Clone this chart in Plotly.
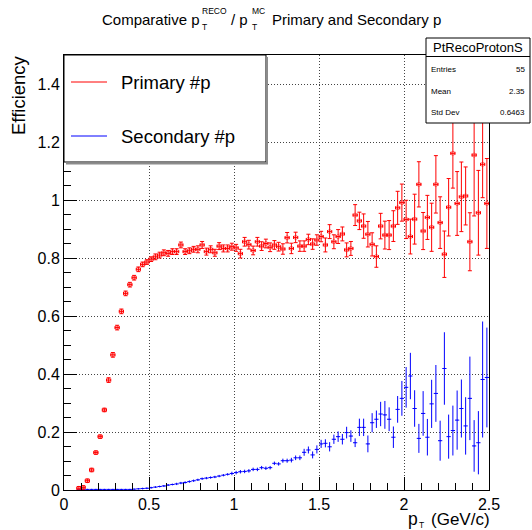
import plotly.graph_objects as go

# ---------------- data ----------------
BIN_WIDTH = 0.025          # pT bin width (GeV/c)
FIRST_BIN = 3              # first filled bin index

primary_eff = [
    0.006, 0.009, 0.032, 0.069, 0.129, 0.184, 0.276, 0.379, 0.466, 0.560,
    0.616, 0.678, 0.708, 0.732, 0.761, 0.778, 0.786, 0.796, 0.804, 0.810,
    0.818, 0.816, 0.822, 0.822, 0.845, 0.822, 0.825, 0.830, 0.830, 0.845,
    0.822, 0.830, 0.818, 0.841, 0.833, 0.833, 0.839, 0.835, 0.815, 0.856,
    0.846, 0.826, 0.856, 0.841, 0.850, 0.837, 0.845, 0.839, 0.831, 0.870,
    0.833, 0.871, 0.841, 0.841, 0.864, 0.848, 0.862, 0.874, 0.845, 0.891,
    0.856, 0.874, 0.883, 0.828, 0.833, 0.948, 0.928, 0.910, 0.882, 0.847,
    0.805, 0.910, 0.879, 0.879, 0.910, 0.973, 0.991, 0.933, 0.874, 0.934,
    1.054, 0.893, 0.940, 0.906, 1.054, 0.922, 0.813, 0.975, 1.161, 0.988,
    1.011, 1.014, 0.856, 1.155, 0.956, 1.123, 0.988,
]
primary_err_up = [
    0.006, 0.006, 0.006, 0.006, 0.006, 0.006, 0.006, 0.008, 0.008, 0.008,
    0.008, 0.008, 0.008, 0.008, 0.008, 0.008, 0.008, 0.008, 0.010, 0.010,
    0.010, 0.010, 0.010, 0.010, 0.010, 0.010, 0.010, 0.010, 0.012, 0.012,
    0.012, 0.012, 0.012, 0.012, 0.012, 0.012, 0.012, 0.012, 0.015, 0.015,
    0.015, 0.015, 0.015, 0.015, 0.015, 0.015, 0.015, 0.015, 0.018, 0.018,
    0.018, 0.018, 0.018, 0.018, 0.018, 0.018, 0.018, 0.018, 0.024, 0.024,
    0.024, 0.024, 0.024, 0.024, 0.024, 0.036, 0.030, 0.042, 0.044, 0.040,
    0.037, 0.044, 0.048, 0.050, 0.053, 0.057, 0.064, 0.066, 0.060, 0.086,
    0.078, 0.064, 0.076, 0.083, 0.099, 0.089, 0.080, 0.099, 0.120, 0.110,
    0.120, 0.100, 0.100, 0.210, 0.146, 0.190, 0.155,
]
primary_err_down = [
    0.006, 0.006, 0.006, 0.006, 0.006, 0.006, 0.006, 0.008, 0.008, 0.008,
    0.008, 0.008, 0.008, 0.008, 0.008, 0.008, 0.008, 0.008, 0.010, 0.010,
    0.010, 0.010, 0.010, 0.010, 0.010, 0.010, 0.010, 0.010, 0.012, 0.012,
    0.012, 0.012, 0.012, 0.012, 0.012, 0.012, 0.012, 0.012, 0.015, 0.015,
    0.015, 0.015, 0.015, 0.015, 0.015, 0.015, 0.015, 0.015, 0.018, 0.018,
    0.018, 0.018, 0.018, 0.018, 0.018, 0.018, 0.018, 0.018, 0.024, 0.024,
    0.024, 0.024, 0.024, 0.024, 0.024, 0.036, 0.030, 0.042, 0.044, 0.040,
    0.037, 0.044, 0.048, 0.050, 0.053, 0.057, 0.064, 0.066, 0.060, 0.086,
    0.078, 0.064, 0.076, 0.083, 0.099, 0.089, 0.080, 0.099, 0.120, 0.110,
    0.120, 0.100, 0.100, 0.210, 0.146, 0.115, 0.155,
]

secondary_eff = [
    0.002, 0.002, 0.002, 0.002, 0.002, 0.002, 0.002, 0.002, 0.002, 0.002,
    0.002, 0.002, 0.002, 0.003, 0.004, 0.005, 0.006, 0.008, 0.010, 0.012,
    0.014, 0.017, 0.019, 0.021, 0.024, 0.026, 0.029, 0.032, 0.035, 0.039,
    0.041, 0.043, 0.045, 0.048, 0.051, 0.054, 0.057, 0.060, 0.063, 0.064,
    0.066, 0.071, 0.071, 0.077, 0.075, 0.077, 0.092, 0.090, 0.101, 0.101,
    0.103, 0.111, 0.111, 0.130, 0.138, 0.121, 0.140, 0.159, 0.161, 0.149,
    0.175, 0.184, 0.175, 0.198, 0.186, 0.163, 0.216, 0.216, 0.159, 0.232,
    0.244, 0.262, 0.259, 0.244, 0.182, 0.278, 0.316, 0.354, 0.393, 0.281,
    0.178, 0.264, 0.182, 0.297, 0.333, 0.170, 0.419, 0.184, 0.205, 0.241,
    0.281, 0.221, 0.316, 0.152, 0.163, 0.381, 0.388,
]
secondary_err = [
    0.002, 0.002, 0.002, 0.002, 0.002, 0.002, 0.002, 0.002, 0.002, 0.002,
    0.002, 0.002, 0.002, 0.002, 0.002, 0.003, 0.003, 0.003, 0.003, 0.003,
    0.003, 0.003, 0.003, 0.004, 0.004, 0.004, 0.004, 0.004, 0.004, 0.004,
    0.004, 0.004, 0.004, 0.004, 0.004, 0.004, 0.006, 0.006, 0.006, 0.006,
    0.006, 0.006, 0.006, 0.006, 0.006, 0.006, 0.006, 0.006, 0.007, 0.007,
    0.008, 0.008, 0.008, 0.012, 0.012, 0.012, 0.014, 0.014, 0.014, 0.016,
    0.016, 0.018, 0.018, 0.020, 0.020, 0.015, 0.030, 0.030, 0.029, 0.033,
    0.030, 0.042, 0.048, 0.041, 0.037, 0.046, 0.060, 0.070, 0.080, 0.063,
    0.050, 0.077, 0.063, 0.083, 0.098, 0.069, 0.125, 0.076, 0.086, 0.102,
    0.100, 0.099, 0.144, 0.089, 0.109, 0.200, 0.172,
]

x_tick_vals = [0, 0.5, 1, 1.5, 2, 2.5]
x_tick_text = ["0", "0.5", "1", "1.5", "2", "2.5"]
y_tick_vals = [0, 0.2, 0.4, 0.6, 0.8, 1.0, 1.2, 1.4]
y_tick_text = ["0", "0.2", "0.4", "0.6", "0.8", "1", "1.2", "1.4"]

legend_labels = ["Primary #p", "Secondary #p"]
stats_title = "PtRecoProtonS"
stats_rows = [("Entries", "55"), ("Mean", "2.35"), ("Std Dev", "0.6463")]

# bin centres
pt_primary = [BIN_WIDTH * (FIRST_BIN + k + 0.5) for k in range(len(primary_eff))]
pt_secondary = [BIN_WIDTH * (FIRST_BIN + k + 0.5) for k in range(len(secondary_eff))]

# ---------------- geometry helpers ----------------
W, H = 532, 530
L, R, T, B = 64, 489, 55, 490
FONT = "Liberation Sans, Arial, Helvetica, sans-serif"


def px(xp):
    return (xp - L) / (R - L)


def py(yp):
    return (B - yp) / (B - T)


RED = "#ff0000"
BLUE = "#0000ff"

fig = go.Figure()

fig.add_trace(go.Scatter(
    x=pt_secondary, y=secondary_eff, mode="markers",
    marker=dict(size=1, color=BLUE),
    error_y=dict(type="data", array=secondary_err, color=BLUE, thickness=1, width=0),
    error_x=dict(type="constant", value=BIN_WIDTH / 2, color=BLUE, thickness=1, width=0),
    showlegend=False, hoverinfo="skip",
))

fig.add_trace(go.Scatter(
    x=pt_primary, y=primary_eff, mode="markers",
    marker=dict(size=4, symbol="circle-open", color="rgba(255,0,0,0.6)",
                line=dict(width=0.8, color="rgba(255,0,0,0.6)")),
    error_y=dict(type="data", array=primary_err_up, arrayminus=primary_err_down,
                 symmetric=False, color=RED, thickness=1, width=2),
    error_x=dict(type="constant", value=BIN_WIDTH / 2, color=RED, thickness=1, width=1.5),
    showlegend=False, hoverinfo="skip",
))

axis_common = dict(
    showline=True, linecolor="black", linewidth=1, mirror=True,
    ticks="inside", ticklen=13, tickcolor="black", tickwidth=1,
    showgrid=True, gridcolor="#444444", gridwidth=1, griddash="1px,2px",
    zeroline=False, tickfont=dict(size=16, color="black", family=FONT),
)

fig.update_xaxes(
    range=[0, 2.5], tickmode="array", tickvals=x_tick_vals, ticktext=x_tick_text,
    minor=dict(tick0=0, dtick=0.1, ticks="inside", ticklen=7, tickcolor="black", showgrid=False),
    **axis_common,
)
fig.update_yaxes(
    range=[0, 1.5], tickmode="array", tickvals=y_tick_vals, ticktext=y_tick_text,
    minor=dict(tick0=0, dtick=0.05, ticks="inside", ticklen=7, tickcolor="black", showgrid=False),
    **axis_common,
)

shapes = []
annotations = []

# legend box with shadow
shapes.append(dict(type="rect", xref="paper", yref="paper", x0=px(64), x1=px(266),
                   y0=py(162), y1=py(55), fillcolor="white", line=dict(color="black", width=1),
                   layer="above"))
shapes.append(dict(type="line", xref="paper", yref="paper", x0=px(267), x1=px(267),
                   y0=py(163.5), y1=py(57), line=dict(color="#8c8c8c", width=2), layer="above"))
shapes.append(dict(type="line", xref="paper", yref="paper", x0=px(66), x1=px(268),
                   y0=py(163.5), y1=py(163.5), line=dict(color="#8c8c8c", width=2), layer="above"))
legend_colors = [RED, BLUE]
legend_y = [82, 136]
for lab, col, ly in zip(legend_labels, legend_colors, legend_y):
    shapes.append(dict(type="line", xref="paper", yref="paper", x0=px(71), x1=px(107),
                       y0=py(ly), y1=py(ly), line=dict(color=col, width=1), layer="above"))
    annotations.append(dict(text=lab, xref="paper", yref="paper", x=px(119), y=py(ly),
                            xanchor="left", yanchor="middle", showarrow=False,
                            font=dict(size=18.5, color="black", family=FONT)))

# stats box
shapes.append(dict(type="rect", xref="paper", yref="paper", x0=px(426), x1=px(530),
                   y0=py(123), y1=py(38), fillcolor="white", line=dict(color="black", width=1),
                   layer="above"))
shapes.append(dict(type="line", xref="paper", yref="paper", x0=px(426), x1=px(530),
                   y0=py(56.5), y1=py(56.5), line=dict(color="black", width=1), layer="above"))
annotations.append(dict(text=stats_title, xref="paper", yref="paper", x=px(478), y=py(47.5),
                        xanchor="center", yanchor="middle", showarrow=False,
                        font=dict(size=13, color="black", family=FONT)))
for (k, v), ry in zip(stats_rows, [70, 91, 112]):
    annotations.append(dict(text=k, xref="paper", yref="paper", x=px(429), y=py(ry),
                            xanchor="left", yanchor="middle", showarrow=False,
                            font=dict(size=8, color="black", family=FONT)))
    annotations.append(dict(text=v, xref="paper", yref="paper", x=px(527), y=py(ry),
                            xanchor="right", yanchor="middle", showarrow=False,
                            font=dict(size=8, color="black", family=FONT)))


# title pieces (ROOT-style stacked sub/superscripts)
def ann(text, x, y, size, xanchor="left", angle=0):
    annotations.append(dict(text=text, xref="paper", yref="paper", x=px(x), y=py(y),
                            xanchor=xanchor, yanchor="middle", showarrow=False, textangle=angle,
                            borderpad=0, font=dict(size=size, color="black", family=FONT)))


ann("Comparative p", 201, 20, 15, "right")
ann("RECO", 200.5, 11.5, 8.5)
ann("T", 200.5, 27.5, 8.5)
ann("/ p", 230, 20, 15)
ann("MC", 251, 11.5, 8.5)
ann("T", 251, 27.5, 8.5)
ann("Primary and Secondary p", 271, 20, 15)

# axis titles
ann("Efficiency", 18, 95, 18.5, "center", -90)
ann("p", 407, 518.5, 17.5)
ann("T", 418, 524.5, 8.5)
ann("(GeV/c)", 491, 519.5, 17, "right")

fig.update_layout(
    width=W, height=H,
    margin=dict(l=L, r=W - R, t=T, b=H - B, pad=0),
    paper_bgcolor="white", plot_bgcolor="white",
    showlegend=False,
    font=dict(family=FONT, color="black"),
    shapes=shapes, annotations=annotations,
)

fig.write_html("out.html", config={"displayModeBar": False})
